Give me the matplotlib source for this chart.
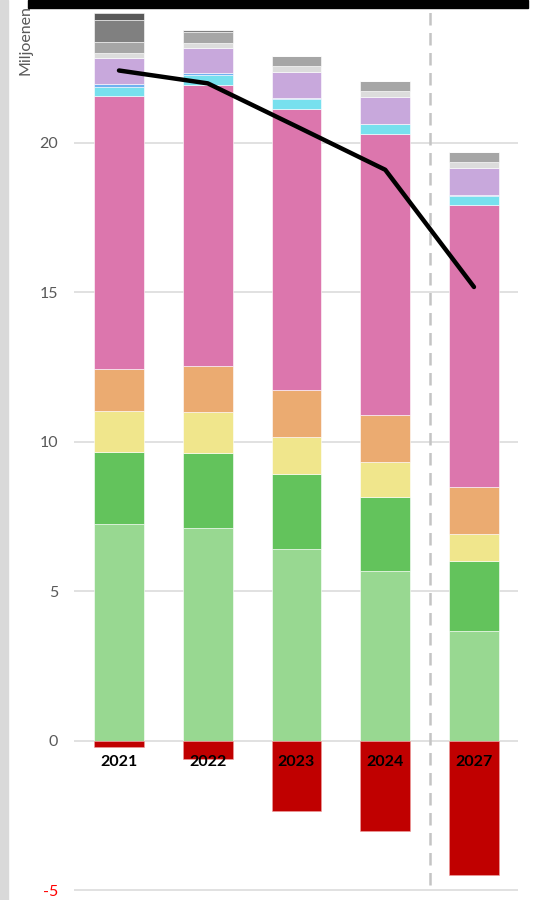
import numpy as np
import matplotlib
matplotlib.use("Agg")
import matplotlib.pyplot as plt
from matplotlib.patches import Rectangle

plt.rcParams['font.family'] = ['Lato', 'DejaVu Sans']

# data (miljoenen)
years = ['2021', '2022', '2023', '2024', '2027']
light_green = [7.26, 7.12, 6.42, 5.69, 3.68]
green = [2.41, 2.51, 2.51, 2.47, 2.34]
yellow = [1.37, 1.37, 1.24, 1.17, 0.90]
orange = [1.40, 1.54, 1.57, 1.57, 1.57]
pink = [9.13, 9.40, 9.40, 9.40, 9.44]
cyan = [0.30, 0.33, 0.33, 0.32, 0.30]
blue = [0.10, 0.07, 0.03, 0.02, 0.03]
lavender = [0.87, 0.84, 0.87, 0.90, 0.90]
light_gray = [0.17, 0.17, 0.20, 0.20, 0.20]
gray = [0.37, 0.37, 0.33, 0.33, 0.33]
dark_gray = [0.74, 0.07, 0.0, 0.0, 0.0]
darkest_gray = [0.23, 0.0, 0.0, 0.0, 0.0]
negative = [-0.20, -0.60, -2.34, -3.00, -4.48]
total_line = [22.42, 21.99, 20.55, 19.10, 15.18]

yticks = [-5, 0, 5, 10, 15, 20]

stack = [
    (light_green, '#98d891'),
    (green, '#63c35c'),
    (yellow, '#f0e68c'),
    (orange, '#ebab71'),
    (pink, '#dc76ad'),
    (cyan, '#77e0ee'),
    (blue, '#6fb1f0'),
    (lavender, '#c8a8dc'),
    (light_gray, '#dcdcdc'),
    (gray, '#a6a6a6'),
    (dark_gray, '#808080'),
    (darkest_gray, '#595959'),
]

fig = plt.figure(figsize=(5.4, 9), dpi=100)
ax = fig.add_axes([74 / 540, 0, 444 / 540, 892 / 900])

x = np.arange(len(years))
w = 0.56
bottom = np.zeros(len(years))
for vals, col in stack:
    vals = np.array(vals)
    ax.bar(x, vals, w, bottom=bottom, color=col, edgecolor='white',
           linewidth=0.4, zorder=2)
    bottom += vals

ax.bar(x, negative, w, color='#c00000', edgecolor='#f0a0a0', linewidth=0.4,
       zorder=2)

ax.plot(x, total_line, color='black', lw=3.2, solid_capstyle='round',
        solid_joinstyle='round', zorder=5)

ax.axvline(3.5, ymin=0.017, ymax=1, color='#c4c4c4', lw=1.8,
           dashes=(5, 3), zorder=4)

for xi, yr in zip(x, years):
    ax.text(xi, -0.72, yr, ha='center', va='center', fontsize=11.5,
            fontweight='bold', color='black', zorder=6)

ax.set_xlim(-0.507, 4.496)
ax.set_ylim(-5.32, 24.51)
ax.set_xticks([])
ax.set_yticks(yticks)
ax.set_yticklabels([str(t) for t in yticks], fontsize=11.5)
for lab, t in zip(ax.get_yticklabels(), yticks):
    lab.set_color('#ff0000' if t < 0 else '#595959')
ax.tick_params(axis='y', length=0, pad=11.5)
ax.grid(axis='y', color='#d9d9d9', lw=1.1, zorder=0)
ax.set_axisbelow(True)
for s in ax.spines.values():
    s.set_visible(False)

# frame pieces of the screenshot
fig.patches.append(Rectangle((0, 0), 8 / 540, 1, transform=fig.transFigure,
                             color='#d9d9d9', zorder=10))
fig.patches.append(Rectangle((28 / 540, 892 / 900), 500 / 540, 8 / 900,
                             transform=fig.transFigure, color='black',
                             zorder=10))
fig.text(25 / 540, 825 / 900, 'Miljoenen', rotation=90, ha='center',
         va='bottom', fontsize=11.5, color='#595959')

fig.savefig('out.png', dpi=100)
